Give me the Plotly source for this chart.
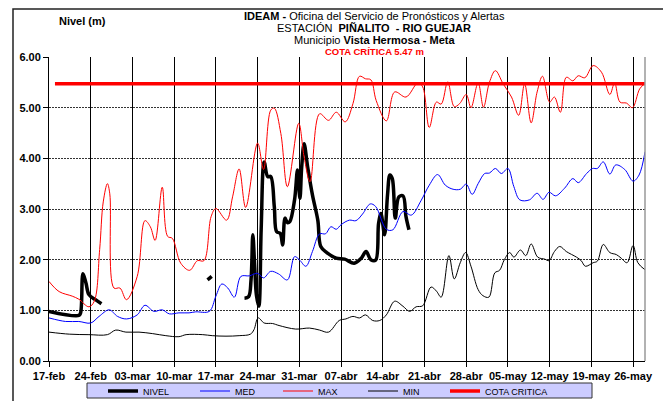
import pandas as pd
import plotly.graph_objects as go

BASE = pd.Timestamp("2013-02-17")

# ---- data (day offset from 17-feb, value in m) ----
nivel_day = [0, 5, 5.3, 5.7, 6.2, 6.7, 7.8, 8.8, None,
             26.6, 27.3, None,
             32.8, 33.5, 33.9, 34.2, 34.5, 34.8, 35.2, 35.6, 36.1, 36.7, 37.2, 37.8, 38.2, 38.8,
             39.2, 39.6, 40, 40.4, 41.2, 41.7, 42.1, 42.4, 42.8, 43.4, 44.2, 45.1, 45.6, 46.6,
             48.2, 49.6, 51.2, 52.4, 53.2, 54, 54.8, 55.3, 55.7, 56.3, 56.8, 57.2, 57.6, 58.1,
             58.7, 59.4, 59.9, 60.4]
nivel_val = [0.98, 0.90, 0.95, 1.72, 1.54, 1.31, 1.21, 1.13, None,
             1.60, 1.67, None,
             1.24, 1.27, 1.60, 2.49, 1.90, 1.30, 1.08, 2.60, 3.93, 3.64, 3.64, 3.05, 2.55, 2.52,
             2.29, 2.82, 2.73, 2.75, 3.18, 3.77, 3.21, 3.83, 4.29, 3.83, 3.28, 2.78, 2.26, 2.14,
             2.03, 2.01, 1.93, 2.03, 2.16, 2.00, 1.99, 2.72, 2.91, 2.49, 3.28, 3.67, 3.60, 2.82,
             3.24, 3.26, 2.85, 2.59]

med_day = [0, 2.8, 5, 7, 8.4, 10.1, 11.5, 13, 14.8, 16.1, 17.6, 19, 20.2, 21.8, 23.5, 24.6, 26.9,
           28, 29, 30, 31.1, 32.2, 33.6, 35, 36, 37.2, 38.5, 40, 41.2, 42, 43.1, 44.2, 45.4, 46.4,
           47.3, 48.2, 49, 50.4, 51.5, 52.6, 53.9, 54.8, 56.6, 57.7, 59.4, 60.8, 62.4, 63.8, 65.2,
           66.5, 67.8, 69, 70, 71, 72, 73.1, 73.9, 74.9, 75.9, 77, 78, 79, 80.6, 81.9, 82.9, 83.9,
           85, 86.5, 87.9, 88.8, 90.2, 91.2, 92, 93, 94.1, 95.1, 96.6, 98, 99, 100]
med_val = [0.85, 0.78, 0.78, 0.75, 0.88, 1.01, 0.88, 0.83, 0.91, 1.10, 0.98, 1.01, 0.93, 0.95, 0.95,
           0.97, 0.98, 1.28, 1.52, 1.44, 1.26, 1.67, 1.68, 1.73, 1.64, 1.77, 1.72, 1.60, 2.06, 2.00,
           1.87, 2.16, 2.51, 2.51, 2.65, 2.60, 2.69, 2.78, 2.77, 2.90, 3.10, 3.05, 2.60, 2.59, 2.95,
           2.88, 3.16, 3.47, 3.68, 3.47, 3.39, 3.39, 3.49, 3.29, 3.50, 3.70, 3.71, 3.80, 3.70, 3.80,
           3.44, 3.18, 3.18, 3.31, 3.19, 3.33, 3.26, 3.41, 3.60, 3.52, 3.70, 3.80, 3.80, 3.93, 3.69,
           3.87, 3.78, 3.55, 3.67, 4.13]

max_day = [0, 1.7, 3.9, 5, 6.7, 7.6, 8.5, 9.1, 9.8, 10.2, 10.9, 11.9, 13, 14.8, 16.1, 17, 17.8, 19,
           19.9, 20.7, 22.1, 23.6, 24.9, 26, 27.2, 28, 29.8, 30.8, 31.9, 33, 35, 36, 37.2, 37.8,
           38.9, 40, 41.9, 42.8, 43.8, 45.4, 46.9, 48.2, 49.7, 51, 52.1, 53.1, 54, 54.9, 56.6, 58,
           59.9, 61.9, 62.7, 63.8, 65, 65.8, 66.9, 68, 68.9, 70, 70.8, 72, 72.9, 73.9, 74.9, 76.2,
           77.6, 78.8, 79.8, 80.9, 81.9, 82.8, 84, 84.8, 85.8, 86.8, 87.9, 88.8, 89.9, 91.3, 92.7,
           94.1, 94.9, 95.8, 96.9, 97.9, 99.1, 100]
max_val = [1.57, 1.37, 1.28, 1.22, 1.07, 1.18, 2.20, 3.14, 3.50, 3.30, 1.44, 1.44, 1.21, 1.67, 2.77,
           2.65, 2.38, 3.43, 2.46, 2.42, 1.93, 1.79, 1.98, 1.98, 2.85, 3.01, 2.78, 3.24, 3.79, 3.03,
           4.30, 3.78, 4.95, 4.99, 4.49, 3.44, 4.69, 4.03, 3.54, 4.88, 4.75, 4.91, 4.72, 5.08, 5.62,
           5.57, 5.55, 5.14, 4.74, 5.31, 5.21, 5.49, 5.41, 4.61, 5.11, 5.07, 5.51, 5.02, 5.08, 5.26,
           5.00, 5.49, 5.01, 5.50, 5.73, 5.47, 5.21, 4.85, 5.47, 4.70, 5.31, 5.62, 5.11, 5.21, 4.91,
           5.60, 5.53, 5.63, 5.59, 5.83, 5.70, 5.26, 5.49, 5.11, 5.09, 5.00, 5.37, 5.48]

min_day = [0, 3.4, 6.7, 9.8, 11.2, 12.9, 15.1, 17.4, 19.6, 21.8, 23, 25.8, 27.4, 29.7, 31.9, 33.8,
           34.4, 35.1, 36.1, 37.5, 38.6, 41.4, 43.7, 45.4, 46.9, 48.7, 49.8, 51, 52.1, 53.1, 54.3,
           55.5, 56.6, 58, 59.4, 60.5, 61.6, 62.7, 64.1, 65, 65.8, 67.1, 68, 69, 69.9, 70.8, 72,
           72.8, 73.8, 74.8, 75.6, 76.4, 77.3, 78, 79.1, 80, 80.9, 82, 83.2, 83.9, 84.8, 85.7, 86.8,
           88.5, 89.3, 90, 91.3, 92, 93, 94.1, 95.2, 96, 97, 98, 98.8, 100]
min_val = [0.57, 0.53, 0.52, 0.52, 0.61, 0.57, 0.57, 0.54, 0.50, 0.48, 0.52, 0.52, 0.50, 0.49, 0.50,
           0.53, 0.62, 0.85, 0.75, 0.74, 0.70, 0.63, 0.65, 0.61, 0.57, 0.80, 0.83, 0.88, 0.85, 0.91,
           0.80, 0.80, 0.91, 1.18, 1.08, 0.98, 1.07, 1.09, 1.46, 1.38, 1.26, 2.08, 1.62, 1.94, 2.14,
           1.87, 1.41, 1.29, 1.26, 1.74, 1.79, 2.00, 2.14, 2.05, 2.19, 2.08, 2.31, 2.05, 2.01, 1.98,
           2.16, 2.26, 2.16, 2.05, 1.98, 1.87, 1.94, 1.97, 2.30, 2.14, 2.10, 2.03, 1.94, 2.28, 1.94,
           1.80]

cota_day = [1, 100]
cota_val = [5.47, 5.47]

tick_days = [0, 7, 14, 21, 28, 35, 42, 49, 56, 63, 70, 77, 84, 91, 98]
tick_text = ["17-feb", "24-feb", "03-mar", "10-mar", "17-mar", "24-mar", "31-mar", "07-abr",
             "14-abr", "21-abr", "28-abr", "05-may", "12-may", "19-may", "26-may"]
x_range_days = [0, 100]


def to_dates(days):
    return [None if d is None else BASE + pd.Timedelta(days=d) for d in days]


FONT = "Arial, Liberation Sans, sans-serif"

W, H = 663, 401
L, R, T, B = 49, 18, 57, 40
PW, PH = W - L - R, H - T - B


def px(x):
    return (x - L) / PW


def py(y):
    return (H - B - y) / PH


series = [
    ("NIVEL", nivel_day, nivel_val, dict(color="#000000", width=3.5, shape="spline"), 148),
    ("MED", med_day, med_val, dict(color="#0000FF", width=1, shape="spline"), 240),
    ("MAX", max_day, max_val, dict(color="#FF0000", width=1, shape="spline"), 323),
    ("MIN", min_day, min_val, dict(color="#000000", width=1, shape="spline"), 408),
    ("COTA CRITICA", cota_day, cota_val, dict(color="#FF0000", width=3.5), 490),
]

fig = go.Figure()
legend_layout = {}
for i, (name, d, v, line, text_x) in enumerate(series):
    lg = "legend" if i == 0 else f"legend{i + 1}"
    fig.add_trace(go.Scatter(x=to_dates(d), y=v, name=name, mode="lines", line=line,
                             connectgaps=False, legend=lg))
    legend_layout[lg] = dict(xref="container", yref="container", x=(text_x - 45) / W,
                             xanchor="left", y=1 - 391 / H, yanchor="middle",
                             bgcolor="rgba(0,0,0,0)", borderwidth=0,
                             font=dict(size=9, family=FONT, color="black"))

fig.update_layout(
    width=W, height=H,
    margin=dict(l=L, r=R, t=T, b=B, autoexpand=False),
    paper_bgcolor="white", plot_bgcolor="white",
    font=dict(family=FONT, color="black", size=11),
    showlegend=True,
    xaxis=dict(type="date", range=to_dates(x_range_days), tickvals=to_dates(tick_days),
               ticktext=tick_text, showgrid=True, gridcolor="#000000", gridwidth=1,
               ticks="outside", ticklen=5, tickcolor="black", showline=True, linecolor="black",
               linewidth=1, tickfont=dict(size=11, family=FONT, weight="bold"),
               zeroline=False, automargin=False),
    yaxis=dict(range=[0, 6], dtick=1, tickformat=".2f", showgrid=True, gridcolor="#333333",
               gridwidth=1, griddash="2px,1px", ticks="outside", ticklen=5, tickcolor="black",
               showline=True, linecolor="black", linewidth=1, zeroline=False, automargin=False,
               tickfont=dict(size=11, family=FONT, weight="bold")),
    **legend_layout,
)

shapes = [
    # outer frame
    dict(type="rect", xref="paper", yref="paper", x0=px(13), x1=px(720), y0=py(460), y1=py(9),
         line=dict(color="#222222", width=1.5), fillcolor="rgba(0,0,0,0)", layer="below"),
    # plot right border
    dict(type="line", xref="paper", yref="paper", x0=1, x1=1, y0=0, y1=1,
         line=dict(color="#999999", width=1.5)),
    # legend box
    dict(type="rect", xref="paper", yref="paper", x0=px(87), x1=px(592), y0=py(398), y1=py(383),
         line=dict(color="#333333", width=1), fillcolor="#CCCCFF"),
]
fig.update_layout(shapes=shapes)

ann = [
    dict(text="<b>Nivel (m)</b>", x=px(57), y=py(21), xanchor="left", size=11, color="black"),
    dict(text="<b>IDEAM - </b>Oficina del Servicio de Pronósticos y Alertas", x=px(374), y=py(16),
         size=11, color="black"),
    dict(text="ESTACIÓN  <b>PIÑALITO  - RIO GUEJAR</b>", x=px(374), y=py(28), size=11, color="black"),
    dict(text="Municipio <b>Vista Hermosa - Meta</b>", x=px(374), y=py(40), size=11, color="black"),
    dict(text="<b>COTA CRÍTICA 5.47 m</b>", x=px(374), y=py(51), size=9.5, color="#FF0000"),
]
for a in ann:
    fig.add_annotation(text=a["text"], x=a["x"], y=a["y"], xref="paper", yref="paper",
                       showarrow=False, yanchor="middle", xanchor=a.get("xanchor", "center"),
                       font=dict(size=a["size"], family=FONT, color=a["color"]))

fig.write_html("out.html", config={"displayModeBar": False, "staticPlot": True},
               post_script="document.body.style.margin='0';document.body.style.overflow='hidden';")
